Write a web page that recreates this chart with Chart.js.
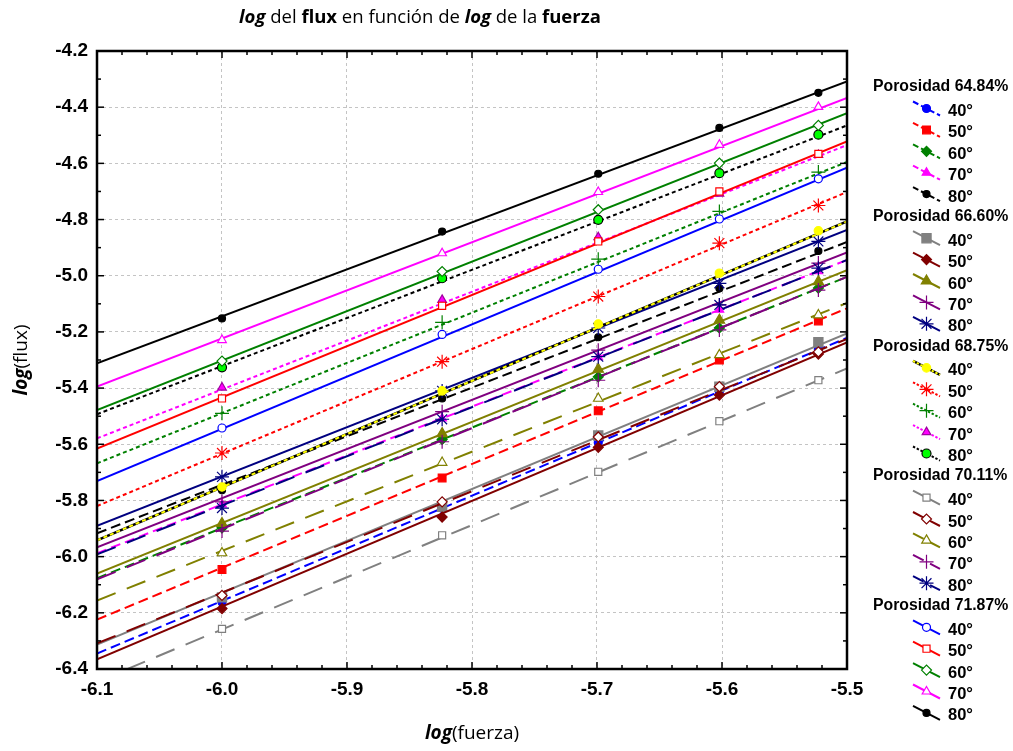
<!DOCTYPE html>
<html><head><meta charset="utf-8">
<script src="https://cdn.jsdelivr.net/npm/chart.js@4.4.1/dist/chart.umd.min.js"></script>
<style>html,body{margin:0;padding:0;background:#fff;}#wrap{width:1013px;height:751px;position:relative;}</style>
</head><body><div id="wrap"><canvas id="c" width="1013" height="751"></canvas></div>
<script>
// ---------- DATA ----------
const xForce = [-6.0, -5.8239, -5.6990, -5.6021, -5.5229];   // log(fuerza) of measured points
const xFitEnds = [-6.1, -5.5];                                // ends of fitted lines
const xTicks = [-6.1, -6.0, -5.9, -5.8, -5.7, -5.6, -5.5];
const xTickLabels = ['-6.1', '-6.0', '-5.9', '-5.8', '-5.7', '-5.6', '-5.5'];
const yTicks = [-6.4, -6.2, -6.0, -5.8, -5.6, -5.4, -5.2, -5.0, -4.8, -4.6, -4.4, -4.2];
const yTickLabels = ['-6.4', '-6.2', '-6.0', '-5.8', '-5.6', '-5.4', '-5.2', '-5.0', '-4.8', '-4.6', '-4.4', '-4.2'];
const porosities = ['Porosidad 64.84%', 'Porosidad 66.60%', 'Porosidad 68.75%', 'Porosidad 70.11%', 'Porosidad 71.87%'];
const angles = ['40°', '50°', '60°', '70°', '80°'];

// log(flux) measured, rows = 40°,50°,60°,70°,80°
const flux_6484 = [
  [-6.162, -5.828, -5.594, -5.412, -5.263],
  [-6.046, -5.720, -5.481, -5.300, -5.161],
  [-5.898, -5.583, -5.360, -5.186, -5.044],
  [-5.814, -5.508, -5.290, -5.121, -4.984],
  [-5.764, -5.437, -5.219, -5.045, -4.912]];
const flux_6660 = [
  [-6.145, -5.823, -5.569, -5.395, -5.237],
  [-6.185, -5.859, -5.611, -5.425, -5.279],
  [-5.882, -5.562, -5.333, -5.158, -5.021],
  [-5.805, -5.484, -5.265, -5.104, -4.955],
  [-5.716, -5.410, -5.186, -5.027, -4.878]];
const flux_6875 = [
  [-5.752, -5.410, -5.172, -4.991, -4.840],
  [-5.631, -5.306, -5.074, -4.884, -4.750],
  [-5.490, -5.166, -4.941, -4.771, -4.631],
  [-5.398, -5.086, -4.863, -4.708, -4.570],
  [-5.326, -5.009, -4.801, -4.635, -4.498]];
const flux_7011 = [
  [-6.257, -5.924, -5.698, -5.518, -5.372],
  [-6.138, -5.805, -5.574, -5.395, -5.271],
  [-5.987, -5.665, -5.437, -5.282, -5.140],
  [-5.909, -5.591, -5.372, -5.193, -5.051],
  [-5.827, -5.511, -5.288, -5.104, -4.973]];
const flux_7187 = [
  [-5.542, -5.209, -4.977, -4.798, -4.655],
  [-5.437, -5.107, -4.878, -4.700, -4.566],
  [-5.304, -4.985, -4.765, -4.599, -4.465],
  [-5.229, -4.920, -4.702, -4.534, -4.399],
  [-5.152, -4.843, -4.637, -4.474, -4.349]];

// fitted line values at x = -6.1 and x = -5.5
const fit_6484 = [[-6.345, -5.221], [-6.224, -5.116], [-6.077, -5.004], [-5.988, -4.944], [-5.917, -4.880]];
const fit_6660 = [[-6.313, -5.205], [-6.366, -5.237], [-6.060, -4.980], [-5.967, -4.917], [-5.890, -4.837]];
const fit_6875 = [[-5.942, -4.807], [-5.820, -4.702], [-5.668, -4.595], [-5.579, -4.535], [-5.493, -4.465]];
const fit_7011 = [[-6.445, -5.330], [-6.309, -5.225], [-6.156, -5.097], [-6.081, -5.004], [-5.992, -4.944]];
const fit_7187 = [[-5.731, -4.615], [-5.615, -4.522], [-5.478, -4.421], [-5.395, -4.367], [-5.312, -4.308]];

const allFlux = [flux_6484, flux_6660, flux_6875, flux_7011, flux_7187];
const allFit = [fit_6484, fit_6660, fit_6875, fit_7011, fit_7187];

// ---------- STYLES ----------
const groupDash = [[10, 5], [], [4, 3], [20, 12], []];
const groupStyles = [
  [{c:'#0000ff', ps:'circle', r:4, fill:'#0000ff'},
   {c:'#ff0000', ps:'rect', r:5.5, fill:'#ff0000'},
   {c:'#008000', ps:'rectRot', r:5, fill:'#008000'},
   {c:'#ff00ff', ps:'triangle', r:5, fill:'#ff00ff'},
   {c:'#000000', ps:'circle', r:3.5, fill:'#000000'}],
  [{c:'#808080', ps:'rect', r:6.5, fill:'#808080'},
   {c:'#800000', ps:'rectRot', r:5, fill:'#800000'},
   {c:'#808000', ps:'triangle', r:6, fill:'#808000'},
   {c:'#800080', ps:'cross', r:7, fill:'#800080'},
   {c:'#000080', ps:'star', r:7, fill:'#000080'}],
  [{c:'#ffff00', ps:'circle', r:4.2, fill:'#ffff00', line2:'#000000'},
   {c:'#ff0000', ps:'star', r:7, fill:'#ff0000'},
   {c:'#008000', ps:'cross', r:7, fill:'#008000'},
   {c:'#ff00ff', ps:'triangle', r:5, fill:'#ff00ff', bc:'#a000a0'},
   {c:'#000000', ps:'circle', r:4.5, fill:'#00ff00', bc:'#000000'}],
  [{c:'#808080', ps:'rect', r:5, fill:'#ffffff'},
   {c:'#800000', ps:'rectRot', r:5, fill:'#ffffff'},
   {c:'#808000', ps:'triangle', r:5.5, fill:'#ffffff'},
   {c:'#800080', ps:'cross', r:7, fill:'#800080'},
   {c:'#000080', ps:'star', r:7, fill:'#000080'}],
  [{c:'#0000ff', ps:'circle', r:4, fill:'#ffffff'},
   {c:'#ff0000', ps:'rect', r:5, fill:'#ffffff'},
   {c:'#008000', ps:'rectRot', r:5, fill:'#ffffff'},
   {c:'#ff00ff', ps:'triangle', r:5, fill:'#ffffff'},
   {c:'#000000', ps:'circle', r:3.5, fill:'#000000'}]
];

// ---------- DATASETS ----------
const datasets = [];
allFlux.forEach((grp, g) => {
  grp.forEach((vals, k) => {
    const st = groupStyles[g][k];
    const fit = allFit[g][k];
    if (st.line2) {
      datasets.push({type:'line', data: xFitEnds.map((x, i) => ({x, y: fit[i]})),
        borderColor: st.line2, borderWidth: 2.5, pointRadius: 0});
    }
    datasets.push({type:'line', data: xFitEnds.map((x, i) => ({x, y: fit[i]})),
      borderColor: st.c, borderWidth: 2, borderDash: groupDash[g], pointRadius: 0});
    datasets.push({type:'line', showLine: false, data: xForce.map((x, i) => ({x, y: vals[i]})),
      pointStyle: st.ps, pointRadius: st.r, pointHoverRadius: st.r,
      pointBackgroundColor: st.fill, pointBorderColor: st.bc || st.c, pointBorderWidth: 1.2});
  });
});
// later series are painted over earlier ones
datasets.forEach((d, i) => { d.order = -i; });

// ---------- HELPERS ----------
function drawMarker(ctx, st, x, y) {
  ctx.save();
  ctx.fillStyle = st.fill; ctx.strokeStyle = st.bc || st.c; ctx.lineWidth = 1.2; ctx.setLineDash([]);
  if (Chart.helpers && Chart.helpers.drawPoint) {
    Chart.helpers.drawPoint(ctx, {pointStyle: st.ps, radius: st.r, rotation: 0, borderWidth: 1.2}, x, y);
  } else {
    ctx.beginPath(); ctx.arc(x, y, st.r, 0, Math.PI * 2); ctx.fill(); ctx.stroke();
  }
  ctx.restore();
}
function drawMixed(ctx, parts, size, family) {
  let w = 0;
  parts.forEach(p => { ctx.font = p[1] + ' ' + size + 'px ' + family; w += ctx.measureText(p[0]).width; });
  let x = -w / 2;
  parts.forEach(p => { ctx.font = p[1] + ' ' + size + 'px ' + family; ctx.fillText(p[0], x, 0); x += ctx.measureText(p[0]).width; });
}

const decor = {
  id: 'decor',
  afterDraw(chart) {
    const ctx = chart.ctx, a = chart.chartArea, xs = chart.scales.x, ys = chart.scales.y;
    ctx.save();
    ctx.strokeStyle = '#000'; ctx.lineWidth = 1.5; ctx.setLineDash([]);
    const line = (x1, y1, x2, y2) => { ctx.beginPath(); ctx.moveTo(x1, y1); ctx.lineTo(x2, y2); ctx.stroke(); };
    for (let i = 0; i < xTicks.length; i++) {
      const px = xs.getPixelForValue(xTicks[i]);
      line(px, a.bottom, px, a.bottom - 7); line(px, a.top, px, a.top + 7);
      if (i < xTicks.length - 1) for (let k = 1; k < 5; k++) {
        const p = xs.getPixelForValue(xTicks[i] + (xTicks[i + 1] - xTicks[i]) * k / 5);
        line(p, a.bottom, p, a.bottom - 4); line(p, a.top, p, a.top + 4);
      }
    }
    for (let i = 0; i < yTicks.length; i++) {
      const py = ys.getPixelForValue(yTicks[i]);
      line(a.left, py, a.left + 7, py); line(a.right, py, a.right - 7, py);
      if (i < yTicks.length - 1) {
        const p = ys.getPixelForValue((yTicks[i] + yTicks[i + 1]) / 2);
        line(a.left, p, a.left + 4, p); line(a.right, p, a.right - 4, p);
      }
    }
    ctx.lineWidth = 2.5;
    ctx.strokeRect(a.left, a.top, a.right - a.left, a.bottom - a.top);

    // titles
    const fam = "'Open Sans', 'DejaVu Sans', sans-serif";
    ctx.fillStyle = '#000'; ctx.textBaseline = 'middle'; ctx.textAlign = 'left';
    ctx.save(); ctx.translate(420, 18);
    drawMixed(ctx, [['log','italic bold'],[' del ','normal'],['flux','bold'],[' en función de ','normal'],['log','italic bold'],[' de la ','normal'],['fuerza','bold']], 18.5, fam);
    ctx.restore();
    ctx.save(); ctx.translate(22, 360); ctx.rotate(-Math.PI / 2);
    drawMixed(ctx, [['log','italic bold'],['(flux)','normal']], 19, fam);
    ctx.restore();
    ctx.save(); ctx.translate(472, 734);
    drawMixed(ctx, [['log','italic bold'],['(fuerza)','normal']], 19, fam);
    ctx.restore();

    // legend
    const lf = "'Liberation Sans', Arial, sans-serif";
    porosities.forEach((name, g) => {
      const hy = 87 + g * 129.7;
      ctx.fillStyle = '#000'; ctx.font = 'bold 15.8px ' + lf; ctx.textAlign = 'left'; ctx.textBaseline = 'middle';
      ctx.fillText(name, 873, hy);
      angles.forEach((lab, k) => {
        const y = hy + 23.5 + k * 21.4;
        const st = groupStyles[g][k];
        if (st.line2) { ctx.strokeStyle = st.line2; ctx.lineWidth = 2.5; ctx.setLineDash([]); line(913, y - 9, 940, y + 5); }
        ctx.strokeStyle = st.c; ctx.lineWidth = 2; ctx.setLineDash(groupDash[g].map(d => d * 0.6));
        line(913, y - 9, 940, y + 5);
        ctx.setLineDash([]);
        drawMarker(ctx, st, 926.5, y - 2);
        ctx.fillStyle = '#000'; ctx.font = 'bold 16.5px ' + lf;
        ctx.fillText(lab, 948, y + 1);
      });
    });
    ctx.restore();
  }
};

const tickFont = {family: "'Liberation Sans', Arial, sans-serif", size: 19, weight: 'bold'};
new Chart(document.getElementById('c'), {
  type: 'line',
  data: {datasets},
  options: {
    responsive: false, animation: false, devicePixelRatio: 1,
    layout: {padding: {left: 0, right: 166, top: 51, bottom: 0}},
    plugins: {legend: {display: false}, tooltip: {enabled: false}},
    events: [],
    scales: {
      x: {type: 'linear', min: -6.1, max: -5.5,
        afterBuildTicks: s => { s.ticks = xTicks.map(v => ({value: v})); },
        afterFit: s => { s.height = 82; },
        ticks: {callback: (v, i) => xTickLabels[i], font: tickFont, color: '#000', padding: 9, maxRotation: 0, autoSkip: false},
        grid: {color: '#c4c4c4', lineWidth: 1, drawTicks: false},
        border: {display: false, dash: [3, 3]}},
      y: {type: 'linear', min: -6.4, max: -4.2,
        afterBuildTicks: s => { s.ticks = yTicks.map(v => ({value: v})); },
        afterFit: s => { s.width = 97; },
        ticks: {callback: (v, i) => yTickLabels[i], font: tickFont, color: '#000', padding: 9, autoSkip: false},
        grid: {color: '#c4c4c4', lineWidth: 1, drawTicks: false},
        border: {display: false, dash: [3, 3]}}
    }
  },
  plugins: [decor]
});
</script></body></html>
